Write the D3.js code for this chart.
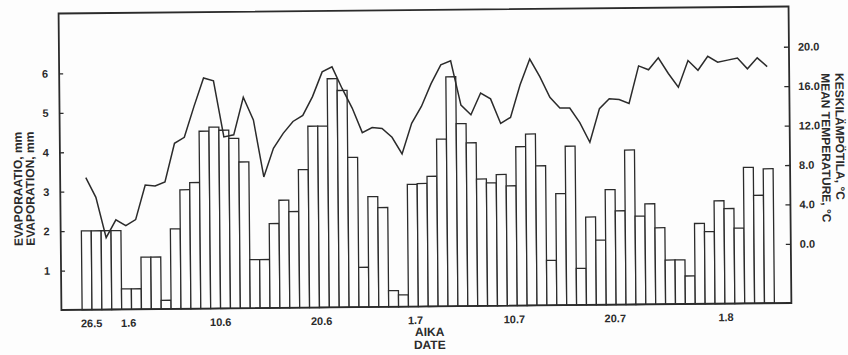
<!DOCTYPE html>
<html>
  <head>
    <meta charset="UTF-8">
    <title>Evaporation and mean temperature</title>
    <script src="https://cdn.jsdelivr.net/npm/d3@7/dist/d3.min.js"></script>
    <style type="text/css">
      body { margin: 0; background: #fdfdfd; }
      text { font-family: "Liberation Sans", Arial, sans-serif; font-weight: bold; fill: #2b2b2b; }
    </style>
  </head>
  <body>
  <script type="text/javascript">

    // daily evaporation, mm (one bar per day, first bar 28.5)
    var evaporation = [
      2.0, 2.0, 2.0, 2.0, 0.52, 0.52, 1.32, 1.32, 0.22, 2.03,
      3.02, 3.2, 4.5, 4.6, 4.52, 4.31, 3.71, 1.23, 1.23, 2.14,
      2.73, 2.44, 3.5, 4.6, 4.6, 5.8, 5.5, 3.8, 1.01, 2.8,
      2.52, 0.41, 0.3, 3.1, 3.12, 3.3, 4.24, 5.82, 4.63, 4.14,
      3.22, 3.12, 3.33, 3.04, 4.03, 4.35, 3.54, 1.14, 2.83, 4.03,
      0.93, 2.23, 1.64, 2.92, 2.38, 3.92, 2.24, 2.55, 1.94, 1.12,
      1.12, 0.71, 2.04, 1.83, 2.61, 2.41, 1.91, 3.45, 2.74, 3.41
    ];

    // daily mean temperature, deg C
    var meanTemp = [
      7.4, 5.4, 1.3, 3.1, 2.5, 3.1, 6.6, 6.5, 6.9, 10.8,
      11.4, 14.5, 17.4, 17.1, 11.4, 11.6, 15.4, 13.1, 7.3, 10.2,
      11.7, 12.9, 13.5, 15.4, 17.9, 18.4, 16.2, 14.2, 11.7, 12.2,
      12.1, 11.2, 9.5, 12.6, 14.3, 16.6, 18.5, 18.9, 14.4, 13.4,
      15.6, 15.0, 12.5, 13.1, 16.4, 19.0, 17.2, 15.1, 14.0, 14.0,
      12.5, 10.5, 13.9, 14.9, 14.8, 14.4, 18.2, 17.8, 19.0, 17.4,
      16.0, 18.7, 17.7, 19.1, 18.5, 18.7, 18.9, 17.8, 18.9, 18.0
    ];

    // date labels and the day (bar index) they sit under
    var dateLabels = ['26.5', '1.6', '10.6', '20.6', '1.7', '10.7', '20.7', '1.8'];
    var dateDays = [0.45, 4.2, 13.5, 23.7, 33.2, 43.2, 53.4, 64.6];

    var evapTicks = [1, 2, 3, 4, 5, 6];
    var tempTicks = [0, 4, 8, 12, 16, 20];

    var ink = '#2b2b2b',
      frame = {left: 60, right: 790, top: 10, bottom: 306.5},
      barStart = 80.7, barEnd = 773;

    var svg = d3.select('body')
      .append('svg')
      .attr('width', 848)
      .attr('height', 355);

    // the printed figure sits a little askew on the page
    var chart = svg.append('g')
      .attr('transform', 'rotate(-0.55, 425, 160)');

    var x = d3.scaleLinear()
      .domain([0, evaporation.length])
      .range([barStart, barEnd]);

    var yEvap = d3.scaleLinear()
      .domain([0, 7.52])
      .range([frame.bottom, frame.top]);

    // 0 deg C lines up with 1.5 mm, 4 deg per mm
    var yTemp = d3.scaleLinear()
      .domain([-6, 4 * 7.52 - 6])
      .range([frame.bottom, frame.top]);

    chart.selectAll('rect.bar')
      .data(evaporation)
      .enter()
      .append('rect')
      .attr('class', 'bar')
      .attr('x', function(d, i) { return x(i); })
      .attr('y', function(d) { return yEvap(d); })
      .attr('width', x(1) - x(0))
      .attr('height', function(d) { return yEvap(0) - yEvap(d); })
      .attr('fill', '#fdfdfd')
      .attr('stroke', ink)
      .attr('stroke-width', 1.3);

    var line = d3.line()
      .x(function(d, i) { return x(i + 0.5); })
      .y(function(d) { return yTemp(d); });

    chart.append('path')
      .datum(meanTemp)
      .attr('d', line)
      .attr('fill', 'none')
      .attr('stroke', ink)
      .attr('stroke-width', 1.5)
      .attr('stroke-linejoin', 'miter');

    // frame
    chart.append('rect')
      .attr('x', frame.left)
      .attr('y', frame.top)
      .attr('width', frame.right - frame.left)
      .attr('height', frame.bottom - frame.top)
      .attr('fill', 'none')
      .attr('stroke', ink)
      .attr('stroke-width', 1.8);

    var leftAxis = chart.append('g')
      .attr('transform', 'translate(' + frame.left + ',0)')
      .call(d3.axisLeft(yEvap).tickValues(evapTicks).tickSize(-4).tickPadding(11).tickFormat(d3.format('d')));

    var rightAxis = chart.append('g')
      .attr('transform', 'translate(' + frame.right + ',0)')
      .call(d3.axisRight(yTemp).tickValues(tempTicks).tickSize(-5).tickPadding(9).tickFormat(d3.format('.1f')));

    [leftAxis, rightAxis].forEach(function(a) {
      a.select('.domain').remove();
      a.selectAll('line').attr('stroke', ink).attr('stroke-width', 1.3);
      a.selectAll('text').attr('font-size', 11).attr('font-family', null).attr('fill', ink);
    });

    chart.selectAll('text.date')
      .data(dateLabels)
      .enter()
      .append('text')
      .attr('class', 'date')
      .attr('x', function(d, i) { return x(dateDays[i] + 0.5); })
      .attr('y', 324)
      .attr('text-anchor', 'middle')
      .attr('font-size', 11)
      .text(function(d) { return d; });

    chart.append('text')
      .attr('x', 428).attr('y', 336)
      .attr('text-anchor', 'middle')
      .attr('font-size', 12)
      .text('AIKA');

    chart.append('text')
      .attr('x', 428).attr('y', 349)
      .attr('text-anchor', 'middle')
      .attr('font-size', 12)
      .text('DATE');

    // y axis titles
    chart.append('text')
      .attr('transform', 'translate(22,185) rotate(-90)')
      .attr('text-anchor', 'middle')
      .attr('font-size', 12)
      .text('EVAPORAATIO, mm');

    chart.append('text')
      .attr('transform', 'translate(34,185) rotate(-90)')
      .attr('text-anchor', 'middle')
      .attr('font-size', 12)
      .text('EVAPORATION, mm');

    chart.append('text')
      .attr('transform', 'translate(836,77) rotate(90)')
      .attr('font-size', 12)
      .text('KESKILÄMPÖTILA, °C');

    chart.append('text')
      .attr('transform', 'translate(822,77) rotate(90)')
      .attr('font-size', 12)
      .text('MEAN TEMPERATURE, °C');

  </script>
  </body>
</html>
